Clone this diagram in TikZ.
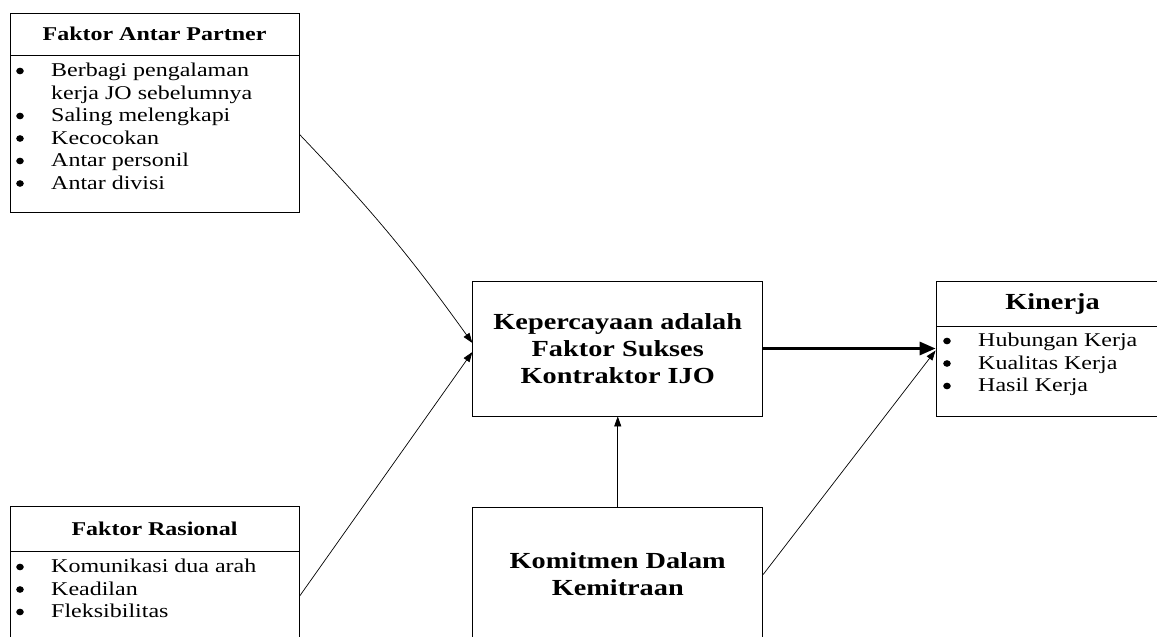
\documentclass[tikz,border=0pt]{standalone}
\usepackage{fontspec}
\setmainfont{Liberation Serif}[FakeStretch=1.23]
\usetikzlibrary{arrows.meta,positioning}

\begin{document}
\begin{tikzpicture}[x=1pt, y=-1pt, >={Triangle[length=10pt,width=7pt]}]
  \tikzset{
    box/.style={draw, line width=0.8pt, inner sep=0pt},
    headbox/.style={box, font=\fontsize{19.5}{22.5}\bfseries\selectfont},
    bigbox/.style={box, minimum width=290pt, minimum height=135pt, align=center,
      font=\fontsize{23}{27}\bfseries\selectfont},
    listtext/.style={anchor=north west, inner sep=0pt, align=left,
      font=\fontsize{19.5}{22.5}\selectfont},
    dot/.style={fill=black},
    conn/.style={->, line width=0.7pt},
    mainconn/.style={-{Triangle[length=16pt,width=13pt]}, line width=3pt}
  }
  \useasboundingbox (0,0) rectangle (1157,637);
  \clip (0,0) rectangle (1157,637);

  % Faktor Antar Partner
  \node[headbox, minimum width=289pt, minimum height=42pt] (partnerHead) at (154.5,34) {Faktor Antar Partner};
  \node[box, minimum width=289pt, minimum height=157pt, below=0pt of partnerHead] (partnerBody) {};
  \node[listtext] (partnerList) at (51,63) {Berbagi pengalaman\\ kerja JO sebelumnya\\ Saling melengkapi\\ Kecocokan\\ Antar personil\\ Antar divisi};
  \foreach \y in {71, 116, 138.5, 161, 183.5}
    \fill[dot] (20,\y) ellipse (3.8 and 3.3);

  % Faktor Rasional
  \node[headbox, minimum width=289pt, minimum height=44.5pt] (rasionalHead) at (154.5,528.75) {Faktor Rasional};
  \node[box, minimum width=289pt, minimum height=157pt, below=0pt of rasionalHead] (rasionalBody) {};
  \node[listtext] (rasionalList) at (51,559) {Komunikasi dua arah\\ Keadilan\\ Fleksibilitas};
  \foreach \y in {567, 589.5, 612}
    \fill[dot] (20,\y) ellipse (3.8 and 3.3);

  % Kepercayaan dan Komitmen
  \node[bigbox] (trust) at (617.75,348.5) {Kepercayaan adalah\\Faktor Sukses\\Kontraktor IJO};
  \node[bigbox] (komitmen) at (617.75,574.5) {Komitmen Dalam\\Kemitraan};

  % Kinerja
  \node[headbox, font=\fontsize{23}{27}\bfseries\selectfont, minimum width=233pt, minimum height=45pt] (kinerjaHead) at (1052.5,303.5) {Kinerja};
  \node[box, minimum width=233pt, minimum height=90pt, below=0pt of kinerjaHead] (kinerjaBody) {};
  \node[listtext] (kinerjaList) at (978,333) {Hubungan Kerja\\ Kualitas Kerja\\ Hasil Kerja};
  \foreach \y in {341, 363.5, 386}
    \fill[dot] (947,\y) ellipse (3.8 and 3.3);

  % Connectors
  \coordinate (rasionalOut) at ([yshift=-45pt]rasionalBody.north east);
  \coordinate (kinerjaIn) at (kinerjaBody.west |- trust.east);
  \draw[conn] (partnerBody.east) to[bend left=4] ([yshift=5.5pt]trust.west);
  \draw[conn] (rasionalOut) -- ([yshift=-3.5pt]trust.west);
  \draw[conn] (komitmen.north) -- (trust.south);
  \draw[conn] (komitmen.east) -- ([yshift=-2pt]kinerjaIn);
  \draw[mainconn] (trust.east) -- (kinerjaIn);
\end{tikzpicture}
\end{document}
